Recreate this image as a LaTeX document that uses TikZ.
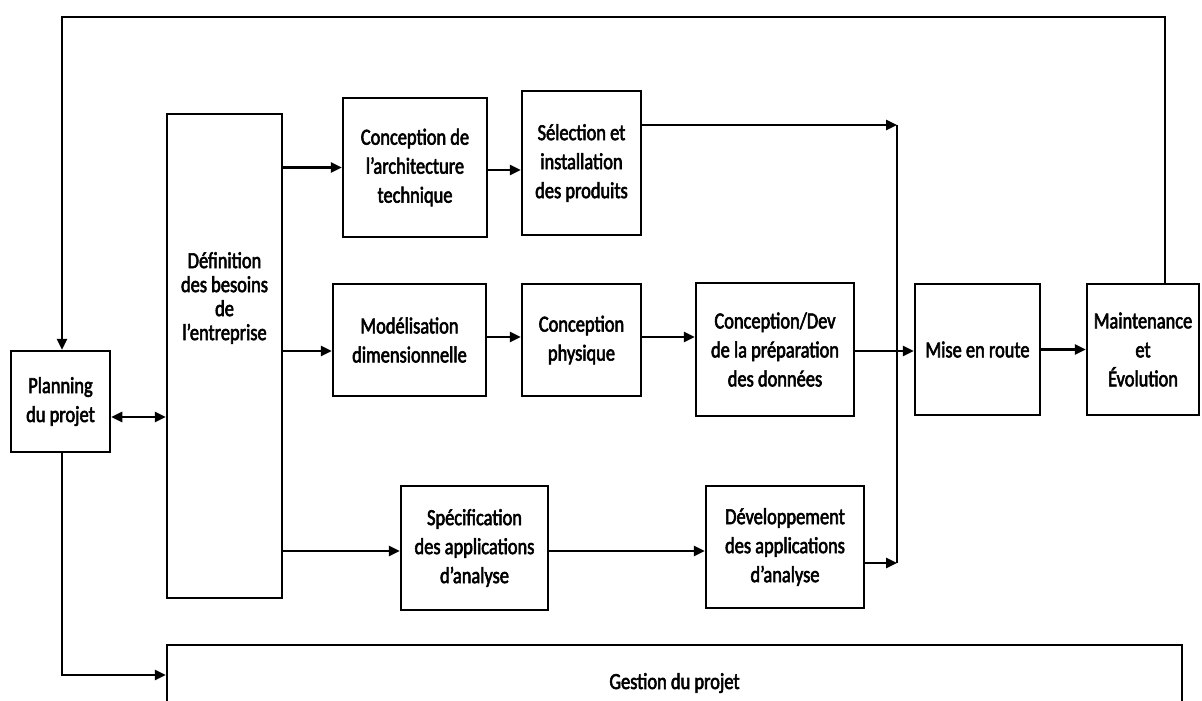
\documentclass[tikz,border=0pt]{standalone}
\usepackage{fontspec}
\setmainfont{Carlito}[FakeStretch=0.8,FakeBold=2.5]
\usetikzlibrary{arrows.meta}
\begin{document}
\begin{tikzpicture}[x=1pt,y=-1pt,
  box/.style={draw,line width=2.5pt,align=center,inner sep=0pt,font=\fontsize{23}{29}\selectfont},
  conn/.style={line width=2.5pt,line join=miter},
  arr/.style={conn,-{Triangle[length=11pt,width=10pt]}},
  dblarr/.style={conn,{Triangle[length=11pt,width=10pt]}-{Triangle[length=11pt,width=10pt]}}
]
\useasboundingbox (0,0) rectangle (1202,701);

% boxes
\node[box,minimum width=99pt,minimum height=101pt] (plan) at (60.5,401.5) {\raisebox{-8pt}{\parbox{90pt}{\centering\fontsize{23}{29}\selectfont Planning\\du projet}}};
\node[box,minimum width=115pt,minimum height=484pt] (def) at (224.5,356) {};
\node[align=center,inner sep=0pt,font=\fontsize{23}{24}\selectfont] (deftext) at (224.5,298) {Définition\\des besoins\\de\\l'entreprise};
\node[box,minimum width=144pt,minimum height=139pt] (archi) at (415,167.5) {Conception de\\l'architecture\\technique};
\node[box,minimum width=119pt,minimum height=144pt] (sel) at (581.5,163) {Sélection et\\installation\\des produits};
\node[box,minimum width=153pt,minimum height=112pt] (mod) at (409.5,340) {Modélisation\\dimensionnelle};
\node[box,minimum width=119pt,minimum height=112pt] (phys) at (581.5,340) {Conception\\physique};
\node[box,minimum width=158pt,minimum height=133pt] (cdev) at (775,349.5) {Conception/Dev\\de la préparation\\des données};
\node[box,minimum width=147pt,minimum height=124pt] (spec) at (474.5,548) {Spécification\\des applications\\d’analyse};
\node[box,minimum width=158pt,minimum height=122pt] (dev) at (785,547) {Développement\\des applications\\d’analyse};
\node[box,minimum width=125pt,minimum height=131pt] (mise) at (977.5,349.5) {Mise en route};
\node[box,minimum width=112pt,minimum height=131pt] (maint) at (1143,349.5) {Maintenance\\et\\Évolution};
\node[box,minimum width=1015pt,minimum height=76pt] (gest) at (674.5,683) {Gestion du projet};

% helper coordinates
\coordinate (tr) at (1165,17);
\coordinate (tl) at (62,17);
\coordinate (y417) at (0,417);
\coordinate (y675) at (0,675);
\coordinate (y351) at (0,351);
\coordinate (y551) at (0,551);
\coordinate (y170) at (0,170);
\coordinate (y337) at (0,337);
\coordinate (jt) at (897,125);
\coordinate (jb) at (897,563);

% connectors
\draw[arr] (maint.north -| tr) -- (tr) -- (tl) -- (tl |- plan.north);
\draw[dblarr] (plan.east |- y417) -- (def.west |- y417);
\draw[arr] (plan.south -| tl) |- (gest.west |- y675);
\draw[arr] (def.east |- archi.west) -- (archi.west);
\draw[arr] (def.east |- y351) -- (mod.west |- y351);
\draw[arr] (def.east |- y551) -- (spec.west |- y551);
\draw[arr] (archi.east |- y170) -- (sel.west |- y170);
\draw[arr] (sel.east |- jt) -- (jt);
\draw[conn] (jt) -- (jb);
\draw[arr] (dev.east |- jb) -- (jb);
\draw[arr] (mod.east |- y337) -- (phys.west |- y337);
\draw[arr] (phys.east |- y337) -- (cdev.west |- y337);
\draw[arr] (cdev.east |- y351) -- (mise.west |- y351);
\draw[arr] (spec.east |- y551) -- (dev.west |- y551);
\draw[arr] (mise.east) -- (maint.west);
\end{tikzpicture}
\end{document}
